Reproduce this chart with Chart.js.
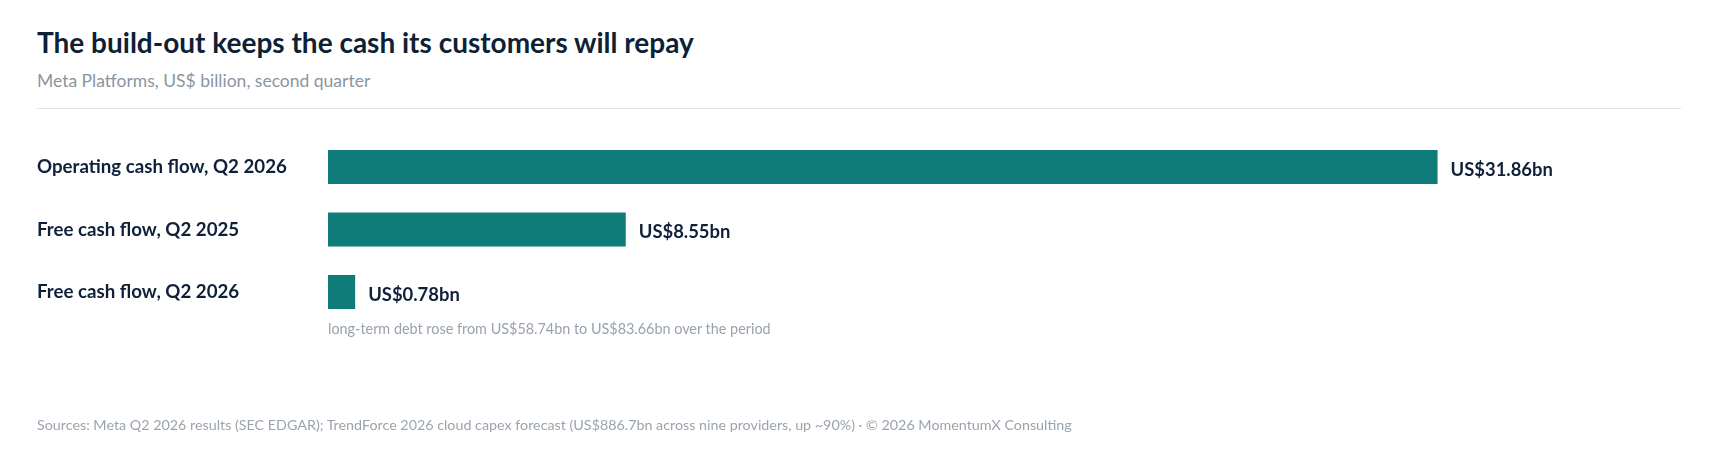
<!DOCTYPE html>
<html>
<head>
<meta charset="utf-8">
<script src="https://cdn.jsdelivr.net/npm/chart.js@4"></script>
<style>
  html, body { margin:0; padding:0; background:#ffffff; }
  body { width:1719px; height:469px; position:relative; overflow:hidden; font-family: Lato, "Noto Sans", sans-serif; }
  #title { position:absolute; left:37px; top:24px; font-size:28px; font-weight:700; color:#0e1f36; white-space:nowrap; line-height:36px; }
  #subtitle { position:absolute; left:37px; top:70px; font-size:17.5px; font-weight:400; color:#8a95a2; white-space:nowrap; line-height:22px; }
  #rule { position:absolute; left:37px; top:108px; width:1644px; height:1px; background:#e1e4e8; }
  #wrap { position:absolute; left:0; top:0; width:1719px; height:469px; }
  #note { position:absolute; left:328px; top:319px; font-size:14.4px; color:#99a2ad; white-space:nowrap; line-height:20px; }
  #footer { position:absolute; left:37px; top:415px; font-size:14.3px; color:#9aa4ae; white-space:nowrap; line-height:20px; }
</style>
</head>
<body>
<div id="title">The build-out keeps the cash its customers will repay</div>
<div id="subtitle">Meta Platforms, US$ billion, second quarter</div>
<div id="rule"></div>
<div id="wrap"><canvas id="c" width="1719" height="469"></canvas></div>
<div id="note">long-term debt rose from US$58.74bn to US$83.66bn over the period</div>
<div id="footer">Sources: Meta Q2 2026 results (SEC EDGAR); TrendForce 2026 cloud capex forecast (US$886.7bn across nine providers, up ~90%) · © 2026 MomentumX Consulting</div>
<script>
const categories = ["Operating cash flow, Q2 2026", "Free cash flow, Q2 2025", "Free cash flow, Q2 2026"];
const values = [31.86, 8.55, 0.78];
const valueLabels = ["US$31.86bn", "US$8.55bn", "US$0.78bn"];
const xMax = 38.85;

const barColor = "#0f7c79";
const labelColor = "#0f2038";

const valueLabelPlugin = {
  id: "valueLabels",
  afterDatasetsDraw(chart) {
    const ctx = chart.ctx;
    const meta = chart.getDatasetMeta(0);
    ctx.save();
    ctx.font = "700 18.4px Lato";
    ctx.fillStyle = labelColor;
    ctx.textBaseline = "middle";
    ctx.textAlign = "left";
    meta.data.forEach((bar, i) => {
      ctx.fillText(valueLabels[i], bar.x + 13, bar.y + 3);
    });
    ctx.restore();
  }
};

function draw() {
  new Chart(document.getElementById("c"), {
    type: "bar",
    data: {
      labels: categories,
      datasets: [{
        data: values,
        backgroundColor: barColor,
        borderWidth: 0,
        barPercentage: 0.544,
        categoryPercentage: 1.0
      }]
    },
    options: {
      indexAxis: "y",
      responsive: false,
      animation: false,
      devicePixelRatio: 1,
      layout: { padding: { left: 37, right: 38, top: 135.75, bottom: 145.75 } },
      plugins: { legend: { display: false }, tooltip: { enabled: false }, title: { display: false } },
      scales: {
        x: { display: false, min: 0, max: xMax },
        y: {
          grid: { display: false },
          border: { display: false },
          afterFit(scale) { scale.width = 291; },
          ticks: {
            crossAlign: "far",
            padding: 0,
            color: labelColor,
            font: { family: "Lato", size: 18.7, weight: "700" }
          }
        }
      }
    },
    plugins: [valueLabelPlugin]
  });
}
if (document.fonts && document.fonts.load) {
  Promise.all([document.fonts.load("700 19px Lato"), document.fonts.load("400 14px Lato")]).then(draw, draw);
} else { draw(); }
</script>
</body>
</html>
